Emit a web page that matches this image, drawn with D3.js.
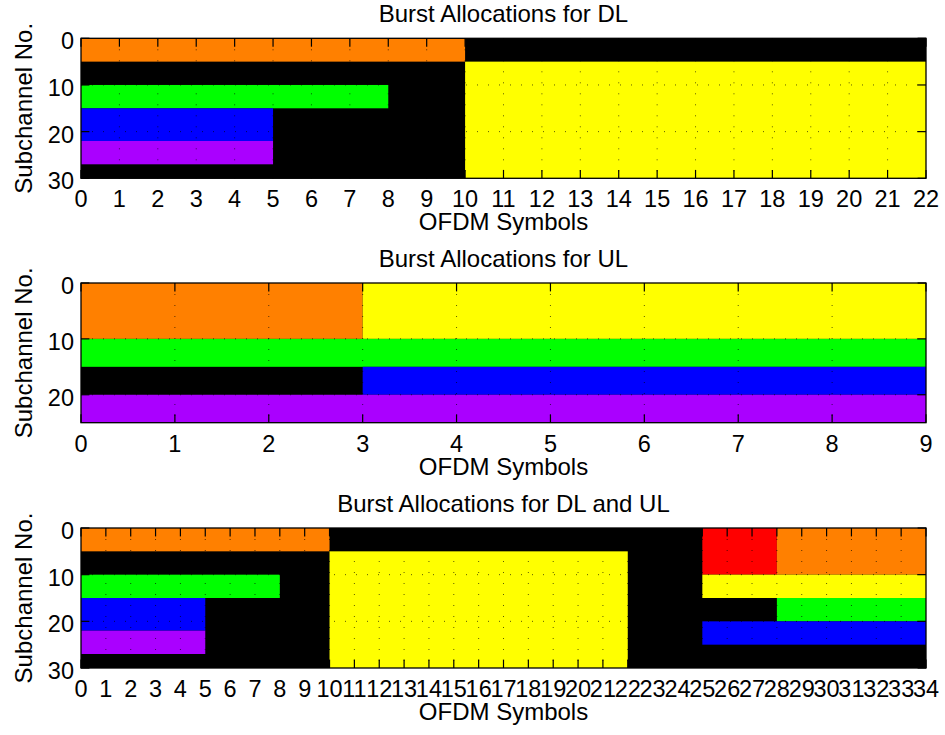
<!DOCTYPE html>
<html>
<head>
<meta charset="utf-8">
<script src="https://cdn.jsdelivr.net/npm/d3@7"></script>
<style>
  html, body { margin: 0; padding: 0; background: #ffffff; }
  svg { display: block; }
  text { font-family: "Liberation Sans", Arial, Helvetica, sans-serif; fill: #000; }
</style>
</head>
<body>
<svg id="chart" width="945" height="735"></svg>
<script>
// ---------------- data ----------------
const panelTitles = ["Burst Allocations for DL", "Burst Allocations for UL", "Burst Allocations for DL and UL"];
const xAxisLabel = "OFDM Symbols";
const yAxisLabel = "Subchannel No.";
const symbolCounts = [22, 9, 34];          // x-axis extent (OFDM symbols)
const subchannelCounts = [30, 25, 30];     // y-axis extent (subchannels)
const yTickValues = [[0, 10, 20, 30], [0, 10, 20], [0, 10, 20, 30]];

// bursts: [startSymbol, endSymbol, startSubchannel, endSubchannel, colour name]
const dlBursts = [
  [0, 10, 0, 5, "orange"],
  [10, 22, 5, 30, "yellow"],
  [0, 8, 10, 15, "green"],
  [0, 5, 15, 22, "blue"],
  [0, 5, 22, 27, "purple"]
];
const ulBursts = [
  [0, 3, 0, 10, "orange"],
  [3, 9, 0, 10, "yellow"],
  [0, 9, 10, 15, "green"],
  [3, 9, 15, 20, "blue"],
  [0, 9, 20, 25, "purple"]
];
const dlUlBursts = [
  [0, 10, 0, 5, "orange"],
  [10, 22, 5, 30, "yellow"],
  [0, 8, 10, 15, "green"],
  [0, 5, 15, 22, "blue"],
  [0, 5, 22, 27, "purple"],
  [25, 28, 0, 10, "red"],
  [28, 34, 0, 10, "orange"],
  [25, 34, 10, 15, "yellow"],
  [28, 34, 15, 20, "green"],
  [25, 34, 20, 25, "blue"]
];
const panelBursts = [dlBursts, ulBursts, dlUlBursts];

const burstColours = {
  orange: "#ff8000", yellow: "#ffff00", green: "#00ff00",
  blue: "#0000ff", purple: "#aa00ff", red: "#ff0000"
};
const emptyColour = "#000000";

// ---------------- layout ----------------
const plotLeft = 81, plotRight = 926;
const plotTops = [38.3, 283, 528];
const plotHeights = [140, 139.7, 140];
const labelFontSize = 24;
const tickFontSize = 23.5;
const tickLen = 8.4;

const svg = d3.select("#chart");

panelTitles.forEach((title, i) => {
  const top = plotTops[i], bottom = top + plotHeights[i];
  const x = d3.scaleLinear().domain([0, symbolCounts[i]]).range([plotLeft, plotRight]);
  const y = d3.scaleLinear().domain([0, subchannelCounts[i]]).range([top, bottom]);
  const g = svg.append("g");

  // background (unallocated)
  g.append("rect")
    .attr("x", plotLeft).attr("y", top)
    .attr("width", plotRight - plotLeft).attr("height", bottom - top)
    .attr("fill", emptyColour);

  // bursts
  g.selectAll("rect.burst").data(panelBursts[i]).join("rect")
    .attr("class", "burst")
    .attr("x", d => x(d[0]))
    .attr("y", d => y(d[2]))
    .attr("width", d => x(d[1]) - x(d[0]))
    .attr("height", d => y(d[3]) - y(d[2]))
    .attr("fill", d => burstColours[d[4]]);

  const xTicks = d3.range(0, symbolCounts[i] + 1);
  const yTicks = yTickValues[i];

  // dotted grid
  const grid = g.append("g")
    .attr("stroke", "#000").attr("stroke-width", 1)
    .attr("stroke-dasharray", "1,10").attr("stroke-opacity", 0.65);
  grid.selectAll("line.vx").data(xTicks.filter(t => t > 0 && t < symbolCounts[i])).join("line")
    .attr("x1", d => x(d)).attr("x2", d => x(d))
    .attr("y1", top).attr("y2", bottom);
  grid.selectAll("line.hy").data(yTicks.filter(t => t > 0 && t < subchannelCounts[i])).join("line")
    .attr("x1", plotLeft).attr("x2", plotRight)
    .attr("y1", d => y(d)).attr("y2", d => y(d));

  // inward tick marks on all four sides
  const ticks = g.append("g").attr("stroke", "#000").attr("stroke-width", 1.2);
  xTicks.forEach(t => {
    ticks.append("line").attr("x1", x(t)).attr("x2", x(t)).attr("y1", top).attr("y2", top + tickLen);
    ticks.append("line").attr("x1", x(t)).attr("x2", x(t)).attr("y1", bottom).attr("y2", bottom - tickLen);
  });
  yTicks.forEach(t => {
    ticks.append("line").attr("x1", plotLeft).attr("x2", plotLeft + tickLen).attr("y1", y(t)).attr("y2", y(t));
    ticks.append("line").attr("x1", plotRight).attr("x2", plotRight - tickLen).attr("y1", y(t)).attr("y2", y(t));
  });

  // box
  g.append("rect")
    .attr("x", plotLeft).attr("y", top)
    .attr("width", plotRight - plotLeft).attr("height", bottom - top)
    .attr("fill", "none").attr("stroke", "#000").attr("stroke-width", 1.3);

  // tick labels
  g.selectAll("text.xt").data(xTicks).join("text")
    .attr("class", "xt")
    .attr("x", d => x(d)).attr("y", bottom + 29)
    .attr("text-anchor", "middle").attr("font-size", tickFontSize)
    .text(d => d);
  g.selectAll("text.yt").data(yTicks).join("text")
    .attr("class", "yt")
    .attr("x", 74).attr("y", d => y(d) + 11)
    .attr("text-anchor", "end").attr("font-size", tickFontSize)
    .text(d => d);

  // title and axis labels
  g.append("text")
    .attr("x", (plotLeft + plotRight) / 2).attr("y", top - 16.5)
    .attr("text-anchor", "middle").attr("font-size", labelFontSize)
    .text(title);
  g.append("text")
    .attr("x", (plotLeft + plotRight) / 2).attr("y", bottom + 52)
    .attr("text-anchor", "middle").attr("font-size", labelFontSize)
    .text(xAxisLabel);
  g.append("text")
    .attr("transform", `translate(32,${(top + bottom) / 2}) rotate(-90)`)
    .attr("text-anchor", "middle").attr("font-size", labelFontSize)
    .text(yAxisLabel);
});
</script>
</body>
</html>
